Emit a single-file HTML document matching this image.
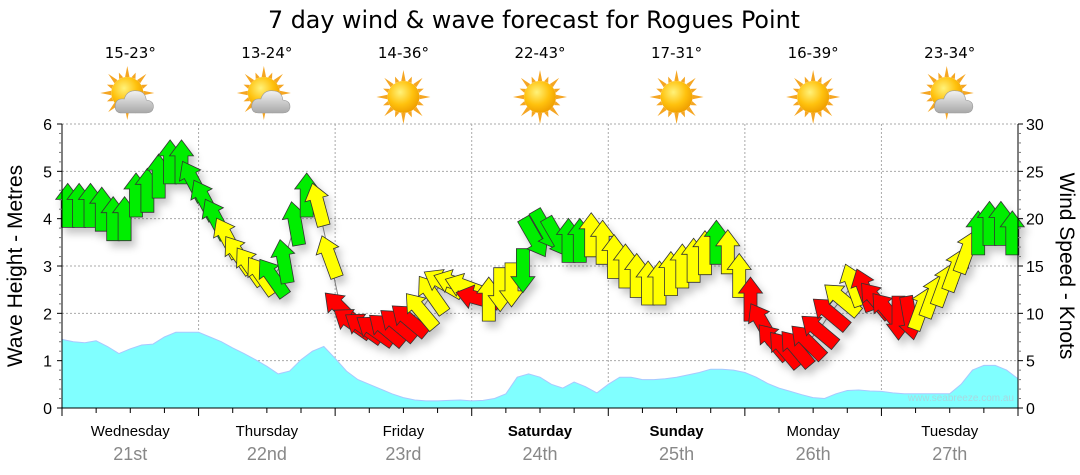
<!DOCTYPE html>
<html><head><meta charset="utf-8">
<style>
html,body{margin:0;padding:0;background:#fff;}
svg{display:block;}
</style></head>
<body>
<svg id="chart" width="1080" height="475" viewBox="0 0 1080 475" xmlns="http://www.w3.org/2000/svg">
<defs>
 <filter id="shadow" x="-50%" y="-50%" width="200%" height="200%">
  <feDropShadow dx="4" dy="6" stdDeviation="4" flood-color="#000" flood-opacity="0.22"/>
 </filter>
 <radialGradient id="sunGrad" cx="40%" cy="35%" r="65%">
  <stop offset="0" stop-color="#fff27a"/><stop offset="0.6" stop-color="#ffc20e"/><stop offset="1" stop-color="#f0a000"/>
 </radialGradient>
 <linearGradient id="cloudGrad" x1="0" y1="0" x2="0" y2="1">
  <stop offset="0" stop-color="#f2f2f2"/><stop offset="1" stop-color="#a8a8a8"/>
 </linearGradient>
</defs>
<text x="534" y="28" text-anchor="middle" font-family="DejaVu Sans, sans-serif" font-size="24" textLength="532" lengthAdjust="spacingAndGlyphs">7 day wind &amp; wave forecast for Rogues Point</text>
<g id="grid"></g>
<g id="wave"></g>
<g id="arrows"></g>
<g id="axes"></g>
<g id="weather"></g>
<text x="1014" y="401" text-anchor="end" font-family="Liberation Sans, sans-serif" font-size="10" fill="#a8d8e0">www.seabreeze.com.au</text>
<text transform="translate(22,266) rotate(-90)" text-anchor="middle" font-family="Liberation Sans, sans-serif" font-size="21">Wave Height - Metres</text>
<text transform="translate(1060,266) rotate(90)" text-anchor="middle" font-family="Liberation Sans, sans-serif" font-size="21">Wind Speed - Knots</text>
</svg>
<script>
const days = ["Wednesday","Thursday","Friday","Saturday","Sunday","Monday","Tuesday"];
const dates = ["21st","22nd","23rd","24th","25th","26th","27th"];
const boldDays = [false,false,false,true,true,false,false];
const temps = ["15-23°","13-24°","14-36°","22-43°","17-31°","16-39°","23-34°"];
const cloudy = [true,true,false,false,false,false,true];
const waveTicks = [0,1,2,3,4,5,6];
const windTicks = [0,5,10,15,20,25,30];
// wave height (m), every 2 hours from start of Wednesday
const waveHeights = [1.45,1.4,1.38,1.42,1.3,1.15,1.25,1.33,1.35,1.5,1.6,1.6,1.6,1.5,1.4,1.27,1.15,1.02,0.88,0.72,0.78,1.02,1.2,1.3,1.05,0.78,0.6,0.5,0.4,0.3,0.22,0.17,0.15,0.15,0.16,0.17,0.15,0.16,0.2,0.3,0.65,0.72,0.65,0.5,0.42,0.55,0.45,0.32,0.5,0.65,0.65,0.6,0.6,0.62,0.65,0.7,0.75,0.82,0.82,0.8,0.75,0.65,0.52,0.42,0.35,0.28,0.22,0.2,0.3,0.37,0.38,0.36,0.35,0.32,0.3,0.3,0.3,0.3,0.3,0.5,0.8,0.9,0.9,0.8,0.62];
// wind speed (knots), every 2 hours centred on odd hours
const windSpeeds = [21.4,21.4,21.4,21,20,20,22.5,23,24.5,26,26,24,22,20,18,16.2,15,14,13.8,15.5,19.5,22.5,21.5,16,10.5,9,8.5,8.2,8.3,8.8,9.3,10.3,12,13.2,13.2,12.8,11.6,11.5,12.5,13,14.5,18,18.8,18,17.7,17.7,18.3,17.5,16,15,14,13.2,13.2,14.2,15,15.6,16.4,17.5,16.5,14,11.5,9,7,6.2,6.3,7,8.2,10,11.5,13,12.5,11.4,10.3,9.5,9.5,10.5,11.8,13,14.6,16.5,18.5,19.5,19.5,18.5];
// arrow pointing direction in degrees (0 = up)
const windDirs = [0,0,0,0,0,0,0,0,0,0,0,-28,-28,-28,-28,-35,-35,-35,-35,-10,-10,0,-15,-20,-45,-55,-55,-55,-50,-50,-50,-40,-35,-60,-70,-70,-75,0,180,180,180,150,150,150,0,0,0,0,0,0,0,0,0,0,0,0,0,0,0,0,0,-30,-40,-40,-40,-45,-50,-50,-50,-20,-20,-40,-40,180,170,20,20,20,20,20,0,0,0,0];
// colour class: g=green y=yellow r=red
const windColors = "ggggggggggggggyyyyggggyyrrrrrrryyyyyryyyggggggyyyyyyyyyyygyyrrrrrrrryyrrrrryyyyygggg";

const X0=62, X1=1018, Y0=408, YT=124;
const dayW=(X1-X0)/7;
const xHour = h => X0 + h*dayW/24;
const yWave = m => Y0 - m*(Y0-YT)/6;
const yWind = k => Y0 - k*(Y0-YT)/30;
const NS="http://www.w3.org/2000/svg";
function mk(tag, attrs, parent){const e=document.createElementNS(NS,tag);for(const k in attrs)e.setAttribute(k,attrs[k]);parent.appendChild(e);return e;}

const grid=document.getElementById('grid');
waveTicks.forEach(t=>{ if(t>0){
  const l=mk('line',{x1:X0,x2:X1,y1:yWave(t),y2:yWave(t),stroke:'#aaa','stroke-dasharray':'2,2','stroke-width':1},grid);
  
  
}});
for(let d=1;d<7;d++){
  const l=mk('line',{x1:xHour(d*24),x2:xHour(d*24),y1:YT,y2:Y0,stroke:'#aaa','stroke-dasharray':'2,2','stroke-width':1},grid);
  
  
}

// wave area
const wg=document.getElementById('wave');
let pd='M'+X0+','+Y0;
waveHeights.forEach((m,i)=>{pd+=' L'+xHour(i*2).toFixed(1)+','+yWave(m).toFixed(1);});
pd+=' L'+xHour((waveHeights.length-1)*2).toFixed(1)+','+Y0+' Z';
const wa=mk('path',{d:pd,fill:'#80ffff',stroke:'#a8c8ff','stroke-width':1},wg);



// arrows
const ag=document.getElementById('arrows');
const colMap={g:'#00ee00',y:'#ffff00',r:'#ff0000'};
const arrowPath='M0,-22 L12,-6 L6.5,-6 L6.5,22 L-6.5,22 L-6.5,-6 L-12,-6 Z';
let line='';
windSpeeds.forEach((k,i)=>{line+=(i?' L':'M')+xHour(i*2+1).toFixed(1)+','+yWind(k).toFixed(1);});
const cl=mk('path',{d:line,fill:'none',stroke:'#888','stroke-width':1},ag);


const sh=mk('g',{filter:'url(#shadow)'},ag);
windSpeeds.forEach((k,i)=>{
  const a=mk('path',{d:arrowPath,transform:'translate('+xHour(i*2+1).toFixed(1)+','+yWind(k).toFixed(1)+') rotate('+windDirs[i]+')',fill:colMap[windColors[i]]||'#ffff00',stroke:'#333','stroke-width':0.8,'stroke-linejoin':'miter'},sh);
  
  
});

// axes
const ax=document.getElementById('axes');
const fs='Liberation Sans, sans-serif';
mk('line',{x1:X0,x2:X0,y1:YT,y2:Y0,stroke:'#000'},ax);
mk('line',{x1:X1,x2:X1,y1:YT,y2:Y0,stroke:'#000'},ax);
mk('line',{x1:X0,x2:X1,y1:Y0,y2:Y0,stroke:'#000'},ax);
for(let i=0;i<=30;i++){
  const y=yWave(i*0.2);const big=i%5===0;
  mk('line',{x1:X0-(big?5:3),x2:X0,y1:y,y2:y,stroke:big?'#000':'#777'},ax);
}
for(let i=0;i<=30;i++){
  const y=yWind(i);const big=i%5===0;
  mk('line',{x1:X1,x2:X1+(big?5:3),y1:y,y2:y,stroke:big?'#000':'#777'},ax);
}
waveTicks.forEach(t=>{
  const e=mk('text',{x:X0-10,y:yWave(t)+6,'text-anchor':'end','font-family':fs,'font-size':16},ax);e.textContent=t;
  
  
});
windTicks.forEach(t=>{
  const e=mk('text',{x:X1+8,y:yWind(t)+6,'font-family':fs,'font-size':16},ax);e.textContent=t;
  
  
});
for(let h=0;h<=168;h+=6){
  mk('line',{x1:xHour(h),x2:xHour(h),y1:Y0,y2:Y0+(h%24===0?8:5),stroke:'#000'},ax);
}
days.forEach((d,i)=>{
  const cx=xHour(i*24+12);
  const e=mk('text',{x:cx,y:436,'text-anchor':'middle','font-family':fs,'font-size':15,'font-weight':boldDays[i]?'bold':'normal'},ax);e.textContent=d;
  
  
  const e2=mk('text',{x:cx,y:460,'text-anchor':'middle','font-family':fs,'font-size':18,fill:'#888'},ax);e2.textContent=dates[i];
  
  
});

// weather
const wt=document.getElementById('weather');
temps.forEach((t,i)=>{
  const cx=xHour(i*24+12);
  const e=mk('text',{x:cx,y:58,'text-anchor':'middle','font-family':'DejaVu Sans, sans-serif','font-size':15},wt);e.textContent=t;
  
  
  const g=mk('g',{transform:'translate('+cx+',97)'},wt);
  
  
  const sx=cloudy[i]?-3:0, sy=cloudy[i]?-4:0;
  for(let r=0;r<16;r++){
    const ang=r*Math.PI/8;const L=(r%2===0)?27:22;
    const x1=sx+Math.cos(ang)*16,y1=sy+Math.sin(ang)*16,x2=sx+Math.cos(ang)*L,y2=sy+Math.sin(ang)*L;
    const px=-Math.sin(ang)*2.2,py=Math.cos(ang)*2.2;
    mk('path',{d:`M${x1+px},${y1+py} L${x2},${y2} L${x1-px},${y1-py} Z`,fill:'#f5a623'},g);
  }
  mk('circle',{cx:sx,cy:sy,r:16,fill:'url(#sunGrad)'},g);
  if(cloudy[i]){
    mk('path',{d:'M-8,16 Q-16,16 -15,8 Q-14,1 -6,2 Q-3,-8 8,-6 Q15,-5 16,3 Q24,4 23,11 Q22,16 16,16 Z',fill:'url(#cloudGrad)',stroke:'#999','stroke-width':0.6},g);
  }
});
</script>
</body></html>
